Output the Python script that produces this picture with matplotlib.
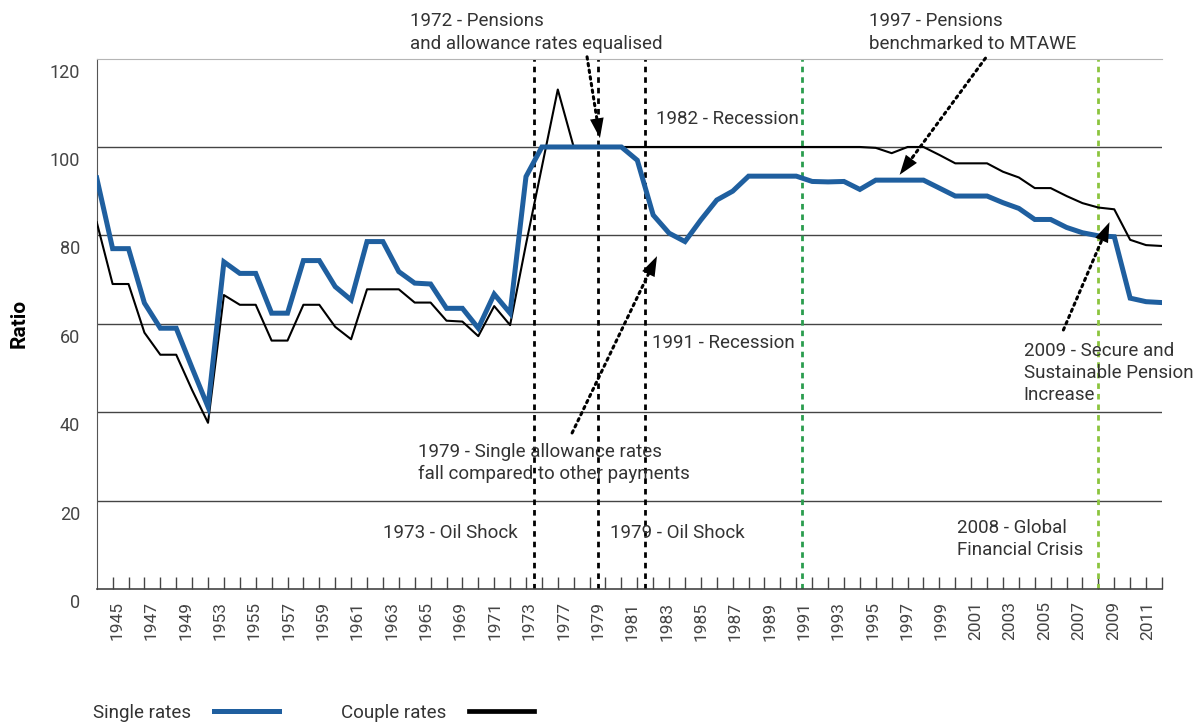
import numpy as np
import matplotlib
matplotlib.use('Agg')
import matplotlib.pyplot as plt
from matplotlib.lines import Line2D
from matplotlib.transforms import ScaledTranslation

plt.rcParams['font.family'] = ['Roboto', 'DejaVu Sans']

# ratio values, one per year (left to right)
single_rates = [93, 77, 77, 64.7, 59, 59, 50, 41.2, 74.0, 71.4,
                71.4, 62.4, 62.4, 74.3, 74.3, 68.4, 65.4, 78.6, 78.6, 71.8,
                69.2, 69.0, 63.5, 63.5, 59.0, 66.7, 62.4, 93.3, 100, 100,
                100, 100, 100, 100, 97, 84.6, 80.5, 78.6, 83.5, 88,
                90, 93.4, 93.4, 93.4, 93.4, 92.2, 92.1, 92.2, 90.4, 92.5,
                92.5, 92.5, 92.5, 90.7, 88.9, 88.9, 88.9, 87.4, 86.1, 83.6,
                83.6, 81.8, 80.6, 79.9, 79.7, 65.8, 65.0, 64.8]
couple_rates = [83, 69, 69, 58, 53, 53, 45, 37.6, 66.5, 64.3,
                64.3, 56.2, 56.2, 64.3, 64.3, 59.3, 56.5, 67.8, 67.8, 67.8,
                64.8, 64.8, 60.7, 60.5, 57.2, 64.0, 59.7, 78, 95.5, 113,
                100, 100, 100, 100, 100, 100, 100, 100, 100, 100,
                100, 100, 100, 100, 100, 100, 100, 100, 100, 99.8,
                98.6, 100, 100, 98.2, 96.3, 96.3, 96.3, 94.4, 93.1, 90.7,
                90.7, 88.9, 87.3, 86.3, 85.9, 79.0, 77.8, 77.6]

year_labels = ['1945', '1947', '1949', '1953', '1955', '1957', '1959', '1961',
               '1963', '1965', '1969', '1971', '1973', '1977', '1979', '1981',
               '1983', '1985', '1987', '1989', '1991', '1993', '1995', '1997',
               '1999', '2001', '2003', '2005', '2007', '2009', '2011']

# event markers (position on the year axis)
black_events = [27.5, 31.5, 34.5]
green_events = [44.35, 63.0]
green_colors = ['#2a9d4e', '#8cc43f']

blue = '#1f5f9f'
txt_col = '#333333'
x = np.arange(len(single_rates))

fig = plt.figure(figsize=(12, 7.25), dpi=100)
ax = fig.add_axes([0.0806, 0.1876, 0.8877, 0.7316])
ax.set_xlim(0, len(single_rates) - 1)
ax.set_ylim(0, 120)

# grid
for v in [20, 40, 60, 80, 100]:
    ax.axhline(v, color='#444444', lw=1, zorder=1)

ax.spines['right'].set_visible(False)
ax.spines['top'].set_color('#b5b5b5')
ax.spines['left'].set_color('#555555')
ax.spines['bottom'].set_color('#444444')
ax.spines['bottom'].set_linewidth(1.2)

# vertical event lines
dash = (0, (2.0, 1.8))
for ex in black_events:
    ax.axvline(ex, color='black', lw=2, ls=dash, zorder=2)
for ex, c in zip(green_events, green_colors):
    ax.axvline(ex, color=c, lw=2, ls=dash, zorder=2)

# series
ax.plot(x, couple_rates, color='black', lw=1.5, zorder=3)
ax.plot(x, single_rates, color=blue, lw=3.6, zorder=4, solid_joinstyle='miter')

# x axis
ax.set_xticks(np.linspace(1.27, 66.1, len(year_labels)))
ax.set_xticklabels(year_labels, rotation=90)
ax.set_xticks(np.arange(1, len(single_rates)), minor=True)
ax.tick_params(axis='x', which='major', length=0, pad=9, labelsize=12.5, labelcolor='#444444')
ax.tick_params(axis='x', which='minor', direction='in', length=8.6, width=1, color='#444444')

# y axis
ax.set_yticks([0, 20, 40, 60, 80, 100, 120])
ax.tick_params(axis='y', length=0, pad=12, labelsize=13, labelcolor='#444444')
offset = ScaledTranslation(0, -0.12, fig.dpi_scale_trans)
for lbl in ax.get_yticklabels():
    lbl.set_transform(lbl.get_transform() + offset)
ax.text(-0.0725, 0.5, 'Ratio', rotation=90, ha='center', va='center',
        transform=ax.transAxes, fontweight='bold', fontsize=15, color='black')

# annotations
note_kw = dict(ha='left', va='center', fontsize=13.5, color=txt_col, linespacing=1.3, clip_on=False)
ax.text(19.7, 125.9, '1972 - Pensions\nand allowance rates equalised', **note_kw)
ax.text(48.6, 125.9, '1997 - Pensions\nbenchmarked to MTAWE', **note_kw)
ax.text(35.2, 106.3, '1982 - Recession', **note_kw)
ax.text(34.9, 55.7, '1991 - Recession', **note_kw)
ax.text(58.3, 48.9, '2009 - Secure and\nSustainable Pension\nIncrease', **note_kw)
ax.text(20.2, 28.5, '1979 - Single allowance rates\nfall compared to other payments', **note_kw)
ax.text(18.0, 12.7, '1973 - Oil Shock', **note_kw)
ax.text(32.3, 12.7, '1979 - Oil Shock', **note_kw)
ax.text(54.1, 11.3, '2008 - Global\nFinancial Crisis', **note_kw)

# dotted pointer lines with solid heads
arrows = [((31.65, 102.0), (30.84, 120.4)),
          ((35.24, 75.3), (29.9, 35.3)),
          ((50.5, 93.7), (55.9, 120.1)),
          ((63.7, 83.0), (60.8, 58.6))]
line_kw = dict(arrowstyle='-', color='black', lw=2.2, ls=(0, (0.8, 1.4)), shrinkA=0, shrinkB=4)
head_kw = dict(arrowstyle='-|>,head_length=1.3,head_width=0.45', color='black', lw=0,
               shrinkA=0, shrinkB=0, mutation_scale=11)
for tip, start in arrows:
    ax.annotate('', xy=tip, xytext=start, arrowprops=line_kw, annotation_clip=False, zorder=5)
    back = (tip[0] + (start[0] - tip[0]) * 0.12, tip[1] + (start[1] - tip[1]) * 0.12)
    ax.annotate('', xy=tip, xytext=back, arrowprops=head_kw, annotation_clip=False, zorder=6)

# legend
handles = [Line2D([], [], color=blue, lw=3.6), Line2D([], [], color='black', lw=3.4)]
fig.legend(handles, ['Single rates', 'Couple rates'], loc='center left',
           bbox_to_anchor=(0.0775, 0.0166), ncol=2, frameon=False, markerfirst=False,
           handlelength=3.5, handletextpad=1.2, columnspacing=3.3, fontsize=13.5,
           borderpad=0, borderaxespad=0, labelcolor=txt_col)

fig.savefig('out.png', dpi=100)
